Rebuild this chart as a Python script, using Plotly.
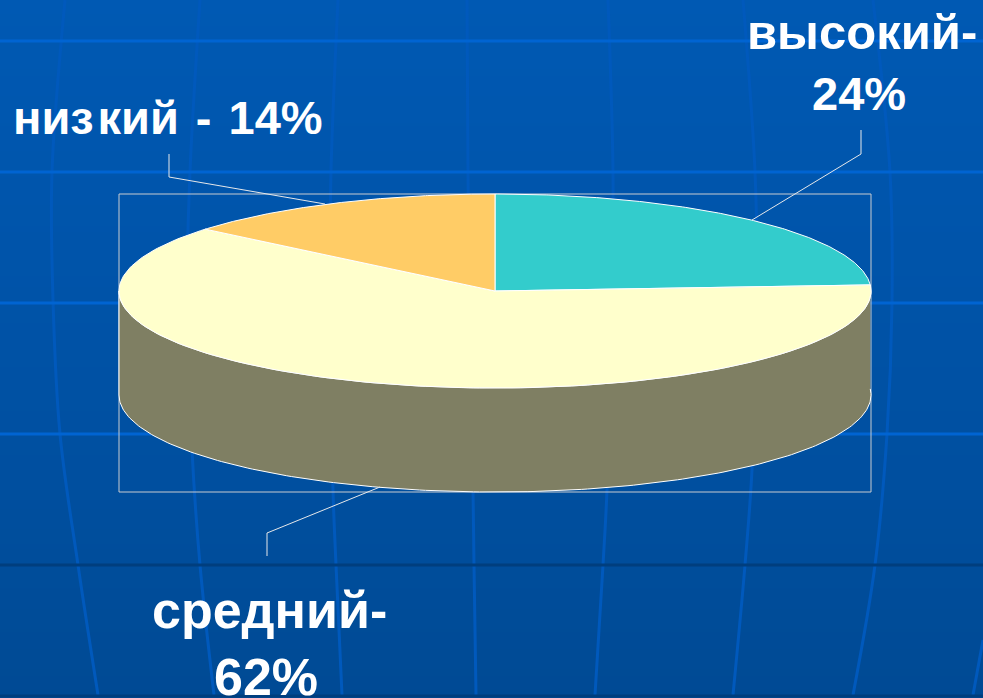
import numpy as np
import plotly.graph_objects as go

# ---- data -------------------------------------------------------------
categories = ["высокий", "средний", "низкий"]
values = [24, 62, 14]
slice_colors = ["#33CCCC", "#FFFFCC", "#FFCC66"]
wall_color = "#7F7F63"

# ---- pie geometry (canvas is 983 x 698 units) -----------------------------
CX, CY, RX, RY, DEPTH = 495, 291, 376, 97, 104
BOX = (119, 194, 871, 492)

# ---- background decoration ----------------------------------------------
bright_rows = [41, 172, 303, 434]
dark_rows = [565, 696]
meridians = [
    ([65, 52, 53, 60, 78, 98], [0, 172, 300, 434, 565, 695]),
    ([200, 190, 187, 192, 200, 214], [0, 172, 300, 450, 565, 695]),
    ([338, 331, 330, 333, 336, 342], [0, 172, 300, 490, 565, 695]),
    ([467, 468, 470, 473, 474, 476], [0, 172, 350, 490, 565, 695]),
    ([608, 613, 612, 607, 603, 595], [0, 172, 300, 490, 565, 695]),
    ([743, 755, 757, 752, 745, 733], [0, 172, 300, 470, 565, 695]),
    ([873, 890, 892, 887, 875, 853], [0, 172, 303, 434, 565, 695]),
    ([983, 973], [640, 695]),
]
gradient_y = [0, 300, 698]
gradient_colors = ["#0059B3", "#0053A8", "#004A94"]

leaders = [
    ([169, 169, 325], [154, 177, 204]),
    ([861, 861, 752], [130, 154, 220]),
    ([267, 267, 380], [556, 533, 487]),
]
HAIR = "\u200a"
labels = [
    ("низ" + HAIR + "кий " + HAIR + "-" + HAIR + " 14%", 168, 117, 47),
    ("высокий-", 862, 32, 49),
    ("24%", 859, 93, 47),
    ("средний-", 269, 610, 52),
    ("62%", 266, 677, 52),
]

fig = go.Figure()

# gradient background
fig.add_trace(go.Heatmap(
    x=[0, 983], y=gradient_y, z=[[v, v] for v in gradient_y],
    zsmooth="best", showscale=False, hoverinfo="skip",
    colorscale=[[y / gradient_y[-1], c] for y, c in zip(gradient_y, gradient_colors)],
))

for xs, ys in meridians:
    fig.add_trace(go.Scatter(x=xs, y=ys, mode="lines", hoverinfo="skip",
                             line=dict(color="#0059BC", width=3, shape="spline")))
for y in bright_rows:
    fig.add_trace(go.Scatter(x=[0, 983], y=[y, y], mode="lines", hoverinfo="skip",
                             line=dict(color="#0064D2", width=3)))
for y in dark_rows:
    fig.add_trace(go.Scatter(x=[0, 983], y=[y, y], mode="lines", hoverinfo="skip",
                             line=dict(color="#003E7E", width=3)))

# frame of the plot area
fig.add_trace(go.Scatter(
    x=[BOX[0], BOX[2], BOX[2], BOX[0], BOX[0]],
    y=[BOX[1], BOX[1], BOX[3], BOX[3], BOX[1]],
    mode="lines", hoverinfo="skip", line=dict(color="#C8CCD0", width=1)))

# pie: angles run clockwise from twelve o'clock
edges = np.cumsum([0] + values) / sum(values) * 2 * np.pi


def px(t):
    return CX + RX * np.sin(t)


def py(t):
    return CY - RY * np.cos(t)


# wall (front part of the largest slice)
front = np.linspace(edges[1], np.deg2rad(270), 200)
fig.add_trace(go.Scatter(
    x=np.r_[px(front), px(front[::-1])],
    y=np.r_[py(front), py(front[::-1]) + DEPTH],
    mode="lines", fill="toself", fillcolor=wall_color, hoverinfo="skip",
    line=dict(color="#FFFFFF", width=1)))

# top faces
for name, v, c, a, b in zip(categories, values, slice_colors, edges[:-1], edges[1:]):
    t = np.linspace(a, b, 200)
    fig.add_trace(go.Scatter(
        x=np.r_[CX, px(t), CX], y=np.r_[CY, py(t), CY],
        mode="lines", fill="toself", fillcolor=c, name=name,
        text=f"{name}: {v}%", hoverinfo="text",
        line=dict(color="#FFFFFF", width=1)))

for xs, ys in leaders:
    fig.add_trace(go.Scatter(x=xs, y=ys, mode="lines", hoverinfo="skip",
                             line=dict(color="#E6E8EA", width=1)))

for txt, x, y, size in labels:
    fig.add_annotation(x=x, y=y, text=f"<b>{txt}</b>", showarrow=False,
                       xanchor="center", yanchor="middle",
                       font=dict(family="Liberation Sans", size=size, color="#FFFFFF"))

fig.update_layout(
    width=983, height=698, margin=dict(l=0, r=0, t=0, b=0),
    showlegend=False, paper_bgcolor="#0053A8", plot_bgcolor="#0053A8",
    xaxis=dict(range=[0, 983], visible=False, fixedrange=True),
    yaxis=dict(range=[698, 0], visible=False, fixedrange=True),
)
fig.write_html("out.html", config={"displayModeBar": False},
               post_script="document.body.style.margin='0';document.body.style.overflow='hidden';")
